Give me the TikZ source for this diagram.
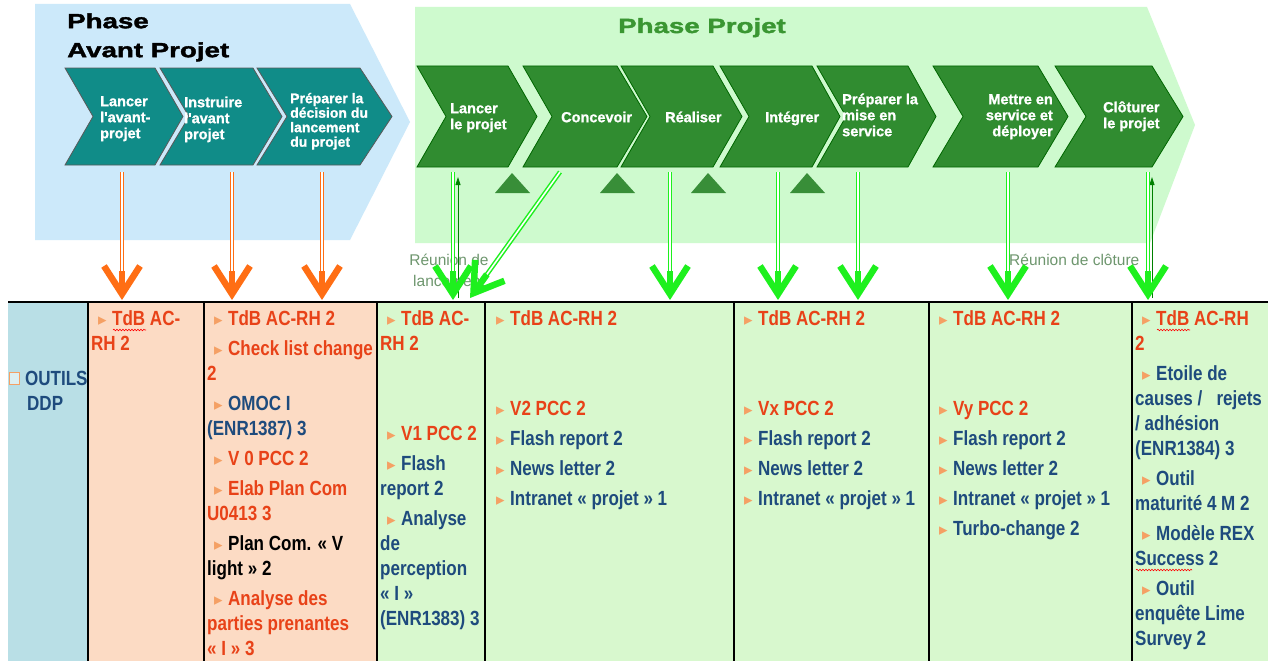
\documentclass[tikz,border=0pt]{standalone}
\usepackage{fontspec}
\setmainfont{Liberation Sans}
\newfontfamily\tabf[FakeStretch=0.83]{Liberation Sans}
\newfontfamily\hdrf[FakeStretch=1.35,FakeBold=1.8]{Liberation Sans Bold}
\newfontfamily\chf[FakeBold=1.2]{Liberation Sans Bold}
\newfontfamily\symf{DejaVu Sans}
\usetikzlibrary{arrows.meta,calc,decorations.pathmorphing}
\definecolor{bgblue}{RGB}{204,233,250}
\definecolor{bggreen}{RGB}{206,250,206}
\definecolor{teal1}{RGB}{16,140,136}
\definecolor{chgreen}{RGB}{48,140,48}
\definecolor{trigreen}{RGB}{56,142,56}
\definecolor{arrorange}{RGB}{255,110,20}
\definecolor{arrgreen}{RGB}{30,240,30}
\definecolor{phgreen}{RGB}{58,150,50}
\definecolor{lblgray}{RGB}{110,150,110}
\definecolor{cellblue}{RGB}{185,223,230}
\definecolor{cellpeach}{RGB}{252,219,196}
\definecolor{cellgreen}{RGB}{216,248,206}
\definecolor{tred}{RGB}{232,66,24}
\definecolor{tblue}{RGB}{30,75,125}
\definecolor{bul}{RGB}{245,160,100}
\newcommand\bl{\hspace*{7pt}\makebox[10pt][l]{\symf\fontsize{17}{17}\selectfont\color{bul}▸}\hspace{4pt}}
\newcommand\fl{\rule{0pt}{16pt}}
\newcommand\cl{\rule{0pt}{11pt}}
\newcommand\R{\color{tred}}
\newcommand\B{\color{tblue}}
\begin{document}
\begin{tikzpicture}[x=1pt,y=-1pt,
  chevT/.style={fill=teal1, draw=black!65, line width=0.8pt},
  chevG/.style={fill=chgreen, draw=black!60!green, line width=0.8pt},
  chtxt/.style={anchor=north west, inner sep=0pt, align=left, text=white, font=\chf\fontsize{14.5}{16}\selectfont},
  oline/.style={draw=arrorange, line width=1.5pt, double=white, double distance=1.6pt},
  ohead/.style={draw=arrorange, line width=6.5pt, -{Straight Barb[length=28pt,width=36pt]}},
  gline/.style={draw=arrgreen, line width=1.5pt, double=white, double distance=1.6pt},
  ghead/.style={draw=arrgreen, line width=6.5pt, -{Straight Barb[length=28pt,width=36pt]}},
  upar/.style={draw=black!50!green, line width=0.8pt, -{Triangle[length=8pt,width=5pt]}},
  cell/.style={anchor=north west, inner sep=0pt, align=left, font=\tabf\bfseries\fontsize{20.5}{25}\selectfont},
  lbl/.style={text=lblgray, font=\fontsize{15.5}{21}\selectfont, inner sep=0pt, align=center},
  hdr/.style={inner sep=0pt, font=\hdrf\fontsize{20.5}{29}\selectfont, align=left},
  tri/.style={fill=trigreen},
  wavy/.style={draw=red, line width=0.6pt, decorate, decoration={snake, amplitude=0.8pt, segment length=3pt}}
]
\useasboundingbox (0,0) rectangle (1268,661);
\fill[white] (0,0) rectangle (1268,661);

% phase backgrounds
\fill[bgblue] (35,4) -- (350,4) -- (410,122) -- (350,240) -- (35,240) -- cycle;
\fill[bggreen] (415,7) -- (1147,7) -- (1195,125) -- (1150,243) -- (415,243) -- cycle;

\node[hdr, anchor=north west] (phav) at (67,13) {\rule{0pt}{15pt}Phase\\Avant Projet};
\node[hdr, anchor=base, text=phgreen] (phpr) at (702,33) {Phase Projet};

% teal chevrons
\path[chevT] (65,68) -- (155,68) -- (183,116.5) -- (155,165) -- (65,165) -- (93,116.5) -- cycle;
\path[chevT] (160,68) -- (253,68) -- (282,116.5) -- (253,165) -- (160,165) -- (189,116.5) -- cycle;
\path[chevT] (257,68) -- (360,68) -- (392,116.5) -- (360,165) -- (257,165) -- (287,116.5) -- cycle;
\node[chtxt] (t1) at (100,95) {\cl Lancer\\l'avant-\\projet};
\node[chtxt] (t2) at (184,96) {\cl Instruire\\l'avant\\projet};
\node[chtxt, font=\chf\fontsize{14}{14.5}\selectfont] (t3) at (290,92) {\cl Préparer la\\décision du\\lancement\\du projet};

% green chevrons
\path[chevG] (417,66) -- (508,66) -- (537,116.5) -- (508,167) -- (417,167) -- (446,116.5) -- cycle;
\path[chevG] (523,66) -- (617,66) -- (647,116.5) -- (617,167) -- (523,167) -- (552,116.5) -- cycle;
\path[chevG] (621,66) -- (713,66) -- (742,116.5) -- (713,167) -- (621,167) -- (650,116.5) -- cycle;
\path[chevG] (720,66) -- (812,66) -- (840,116.5) -- (812,167) -- (720,167) -- (749,116.5) -- cycle;
\path[chevG] (817,66) -- (908,66) -- (936,116.5) -- (908,167) -- (817,167) -- (846,116.5) -- cycle;
\path[chevG] (933,66) -- (1038,66) -- (1068,116.5) -- (1038,167) -- (933,167) -- (963,116.5) -- cycle;
\path[chevG] (1055,66) -- (1152,66) -- (1183,116.5) -- (1152,167) -- (1055,167) -- (1086,116.5) -- cycle;
\node[chtxt] (g1) at (450,102) {\cl Lancer\\le projet};
\node[chtxt] (g2) at (561,111) {\cl Concevoir};
\node[chtxt] (g3) at (665,111) {\cl Réaliser};
\node[chtxt] (g4) at (765,111) {\cl Intégrer};
\node[chtxt] (g5) at (842,93) {\cl Préparer la\\mise en\\service};
\node[chtxt, anchor=north east, align=right] (g6) at (1053,93) {\cl Mettre en\\service et\\déployer};
\node[chtxt] (g7) at (1103,101) {\cl Clôturer\\le projet};

% milestone triangles
\fill[tri] (495,193) -- (512,173) -- (530,193) -- cycle;
\fill[tri] (600,193) -- (617,173) -- (635,193) -- cycle;
\fill[tri] (691,193) -- (708,173) -- (726,193) -- cycle;
\fill[tri] (790,193) -- (807,173) -- (825,193) -- cycle;

% table
\fill[cellblue] (8,302) rectangle (88,661);
\fill[cellpeach] (88,302) rectangle (377,661);
\fill[cellgreen] (377,302) rectangle (1268,661);
\foreach \xx in {88,204,377,485,734,929,1132} \draw[line width=1.8pt] (\xx,302) -- (\xx,661);
\draw[line width=2.6pt] (8,302) -- (1268,302);

% arrow coordinates
\coordinate (o1s) at (122,172); \coordinate (o1e) at (122,300);
\coordinate (o2s) at (232,172); \coordinate (o2e) at (232,300);
\coordinate (o3s) at (322,172); \coordinate (o3e) at (322,300);
\coordinate (g1s) at (453,172); \coordinate (g1e) at (453,300);
\coordinate (g2s) at (560,172); \coordinate (g2e) at (470,298);
\coordinate (g3s) at (670,172); \coordinate (g3e) at (670,300);
\coordinate (g4s) at (778,172); \coordinate (g4e) at (778,300);
\coordinate (g5s) at (858,172); \coordinate (g5e) at (858,300);
\coordinate (g6s) at (1008,172); \coordinate (g6e) at (1008,300);
\coordinate (g7s) at (1148,172); \coordinate (g7e) at (1148,300);
\coordinate (u1s) at (458,298); \coordinate (u1e) at (458,177);
\coordinate (u2s) at (1152,298); \coordinate (u2e) at (1152,177);

% labels
\node[lbl, anchor=north] (rl) at (449,253) {\rule{0pt}{12pt}Réunion de\\lancement};
\node[lbl, anchor=base west] (rc) at (1009,265) {Réunion de clôture};

\draw[upar] (u1s) -- (u1e);
\draw[upar] (u2s) -- (u2e);

\foreach \a in {o1,o2,o3} {
  \draw[oline] (\a s) -- ($(\a e)!6pt!(\a s)$);
  \draw[ohead] ($(\a e)!29pt!(\a s)$) -- (\a e);
}
\foreach \a in {g1,g2,g3,g4,g5,g6,g7} {
  \draw[gline] (\a s) -- ($(\a e)!6pt!(\a s)$);
  \draw[ghead] ($(\a e)!29pt!(\a s)$) -- (\a e);
}

% column 1
\draw[draw=bul, fill=cellblue!50!white, line width=0.8pt] (9,372) rectangle (19,384);
\node[cell, text=tblue] (c1) at (25,369) {\fl OUTILS\\\hspace*{2pt}DDP};

% column 2
\node[cell] (c2) at (91,309) {\fl\bl\R TdB AC-\\\R RH 2};

% column 3
\node[cell] (c3) at (207,309) {\fl\bl\R TdB AC-RH 2\\[5pt]
\bl\R Check list change\\\R 2\\[5pt]
\bl\B OMOC I\\\B (ENR1387) 3\\[5pt]
\bl\R V 0 PCC 2\\[5pt]
\bl\R Elab Plan Com\\\R U0413 3\\[5pt]
\bl\color{black}Plan Com. « V\\light » 2\\[5pt]
\bl\R Analyse des\\\R parties prenantes\\\R « I » 3};

% column 4
\node[cell] (c4) at (380,309) {\fl\bl\R TdB AC-\\\R RH 2\\[65pt]
\bl\R V1 PCC 2\\[5pt]
\bl\B Flash\\\B report 2\\[5pt]
\bl\B Analyse\\\B de\\\B perception\\\B « I »\\\B (ENR1383) 3};

% column 5
\node[cell] (c5) at (489,309) {\fl\bl\R TdB AC-RH 2\\[65pt]
\bl\R V2 PCC 2\\[5pt]
\bl\B Flash report 2\\[5pt]
\bl\B News letter 2\\[5pt]
\bl\B Intranet « projet » 1};

% column 6
\node[cell] (c6) at (737,309) {\fl\bl\R TdB AC-RH 2\\[65pt]
\bl\R Vx PCC 2\\[5pt]
\bl\B Flash report 2\\[5pt]
\bl\B News letter 2\\[5pt]
\bl\B Intranet « projet » 1};

% column 7
\node[cell] (c7) at (932,309) {\fl\bl\R TdB AC-RH 2\\[65pt]
\bl\R Vy PCC 2\\[5pt]
\bl\B Flash report 2\\[5pt]
\bl\B News letter 2\\[5pt]
\bl\B Intranet « projet » 1\\[5pt]
\bl\B Turbo-change 2};

% column 8
\node[cell] (c8) at (1135,309) {\fl\bl\R TdB AC-RH\\\R 2\\[5pt]
\bl\B Etoile de\\\B causes /~~ rejets\\\B / adhésion\\\B (ENR1384) 3\\[5pt]
\bl\B Outil\\\B maturité 4 M 2\\[5pt]
\bl\B Modèle REX\\\B Success 2\\[5pt]
\bl\B Outil\\\B enquête Lime\\\B Survey 2};

% spell-check underlines
\draw[wavy] (113,330) -- (146,330);
\draw[wavy] (1157,330) -- (1190,330);
\draw[wavy] (1136,570) -- (1192,570);
\end{tikzpicture}
\end{document}
